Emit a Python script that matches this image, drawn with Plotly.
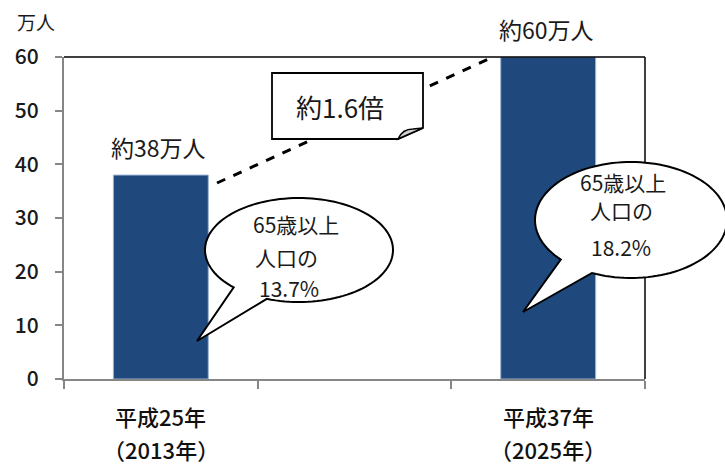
import plotly.graph_objects as go
import numpy as np

# ---- data ----
categories = ["平成25年", "平成37年"]
years = ["（2013年）", "（2025年）"]
values = [38, 60]
value_labels = ["約38万人", "約60万人"]
share_lines = [["65歳以上", "人口の", "13.7%"], ["65歳以上", "人口の", "18.2%"]]
ratio_label = "約1.6倍"
y_unit = "万人"
spacer = " "
axis_categories = [categories[0], spacer, categories[1]]

FONT = "Noto Sans CJK JP"
W, H = 725, 464
L, R, T, B = 64, 645, 57, 379  # plot area in pixels


def P(x, y):
    """pixel -> paper coordinates"""
    return (x - L) / (R - L), (B - y) / (B - T)


def path_from_px(points, close=True):
    s = ""
    for i, (x, y) in enumerate(points):
        px, py = P(x, y)
        s += ("M" if i == 0 else "L") + f"{px:.5f},{py:.5f} "
    if close:
        s += "Z"
    return s


def bubble_path(cx, cy, rx, ry, a_start, a_end, tip):
    angs = np.linspace(np.radians(a_start), np.radians(a_end + 360), 120)
    pts = [(cx + rx * np.cos(a), cy + ry * np.sin(a)) for a in angs]
    pts.append(tip)
    return path_from_px(pts)


fig = go.Figure()
fig.add_trace(go.Bar(
    x=categories, y=values,
    marker=dict(color="#1f497d", line=dict(color="#9db3d3", width=1)),
    width=0.49,
    hoverinfo="skip",
))

shapes = []
shapes.append(dict(type="line", xref="paper", yref="paper", x0=0, x1=1, y0=1, y1=1,
                   line=dict(color="black", width=1.5), layer="above"))
shapes.append(dict(type="line", xref="paper", yref="paper", x0=1, x1=1, y0=0, y1=1,
                   line=dict(color="black", width=1.5), layer="above"))
x0, y0 = P(217, 183)
x1, y1 = P(495, 56)
shapes.append(dict(type="line", xref="paper", yref="paper", x0=x0, y0=y0, x1=x1, y1=y1,
                   line=dict(color="black", width=3, dash="dash"), layer="above"))
shapes.append(dict(type="path", xref="paper", yref="paper",
                   path=path_from_px([(272, 73), (423, 73), (423, 128), (398, 139), (272, 139)]),
                   fillcolor="white", line=dict(color="black", width=1.8), layer="above"))
fx0, fy0 = P(398, 139)
fxa, fya = P(401, 132)
fxb, fyb = P(406, 129)
fxc, fyc = P(413, 129)
fx1, fy1 = P(423, 128)
shapes.append(dict(type="path", xref="paper", yref="paper",
                   path=f"M{fx0},{fy0} C{fxa},{fya} {fxb},{fyb} {fxc},{fyc} L{fx1},{fy1} Z",
                   fillcolor="#d0d0d0", line=dict(color="black", width=1.5), layer="above"))
shapes.append(dict(type="path", xref="paper", yref="paper",
                   path=bubble_path(299, 250, 94, 52, 134, 110, (197, 341)),
                   fillcolor="white", line=dict(color="black", width=2), layer="above"))
shapes.append(dict(type="path", xref="paper", yref="paper",
                   path=bubble_path(631, 220, 96, 58, 137, 114, (523, 312)),
                   fillcolor="white", line=dict(color="black", width=2), layer="above"))

ann = []
for c, v, t in zip(categories, values, value_labels):
    ann.append(dict(x=c, y=v, xref="x", yref="y", text=t, showarrow=False,
                    yanchor="middle", yshift=28, xshift=-2, borderpad=0,
                    font=dict(family=FONT, size=23, color="#1a1a1a")))
rx, ry = P(340, 106)
ann.append(dict(x=rx, y=ry, xref="paper", yref="paper", text=ratio_label, showarrow=False,
                xanchor="center", yanchor="middle", borderpad=0,
                font=dict(family=FONT, size=26, color="#1a1a1a")))
bubble_text_pos = [[(252, 224), (254, 257), (258, 288)], [(579, 182), (589, 210), (590, 247)]]
for lines, poss in zip(share_lines, bubble_text_pos):
    for t, (bx, by) in zip(lines, poss):
        qx, qy = P(bx, by)
        ann.append(dict(x=qx, y=qy, xref="paper", yref="paper", text=t, showarrow=False,
                        xanchor="left", yanchor="middle", borderpad=0,
                        font=dict(family=FONT, size=21, color="#1a1a1a")))
for c, yr in zip(categories, years):
    _, ya = P(0, 416)
    _, yb = P(0, 449)
    ann.append(dict(x=c, y=ya, xref="x", yref="paper", text=c, showarrow=False,
                    yanchor="middle", borderpad=0,
                    font=dict(family=FONT, size=22, color="#111111", weight=500)))
    ann.append(dict(x=c, y=yb, xref="x", yref="paper", text=yr, showarrow=False,
                    yanchor="middle", borderpad=0,
                    font=dict(family=FONT, size=22, color="#111111", weight=500)))
ux, uy = P(36, 22)
ann.append(dict(x=ux, y=uy, xref="paper", yref="paper", text=y_unit, showarrow=False,
                xanchor="center", yanchor="middle", borderpad=0,
                font=dict(family=FONT, size=19, color="#1a1a1a")))

fig.update_layout(
    width=W, height=H,
    margin=dict(l=L, r=W - R, t=T, b=H - B, pad=0),
    paper_bgcolor="white", plot_bgcolor="white",
    showlegend=False,
    shapes=shapes, annotations=ann,
    font=dict(family=FONT),
)
fig.update_xaxes(
    type="category", categoryorder="array", categoryarray=axis_categories,
    range=[-0.5, 2.5], tickson="boundaries", ticks="outside", ticklen=8,
    tickcolor="#868686", tickwidth=2, showline=True, linecolor="#868686", linewidth=2,
    showticklabels=False, showgrid=False, zeroline=False, fixedrange=True,
)
fig.update_yaxes(
    range=[0, 60], dtick=10, ticks="outside", ticklen=7, tickcolor="#868686", tickwidth=2,
    showline=True, linecolor="#868686", linewidth=2, showgrid=False, zeroline=False,
    tickfont=dict(family=FONT, size=21, color="#1a1a1a", weight=500), ticklabelstandoff=12,
    fixedrange=True,
)

fig.write_html("out.html", config={"displayModeBar": False})
